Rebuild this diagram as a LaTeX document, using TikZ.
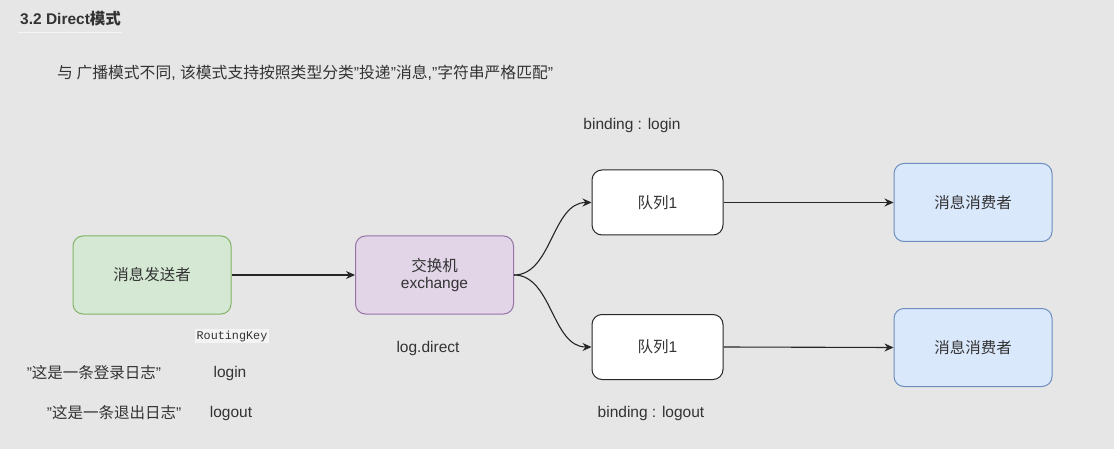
\documentclass[tikz,border=0pt]{standalone}
\usepackage{fontspec}
\setmainfont{Liberation Sans}
\setmonofont{Liberation Mono}
\newfontfamily\cjk{Noto Sans CJK SC}
\usetikzlibrary{arrows.meta}
\definecolor{bg}{HTML}{E6E6E6}
\definecolor{txt}{HTML}{333333}
\definecolor{greenfill}{HTML}{D5E8D4}
\definecolor{greenline}{HTML}{82B366}
\definecolor{purplefill}{HTML}{E1D5E7}
\definecolor{purpleline}{HTML}{9673A6}
\definecolor{bluefill}{HTML}{DAE8FC}
\definecolor{blueline}{HTML}{6C8EBF}
\tikzset{
  x=1pt, y=-1pt,
  box/.style={draw, rounded corners=10pt, line width=1pt, text=txt,
    font=\fontsize{15.5}{18}\selectfont, align=center, inner sep=0pt},
  label/.style={text=txt, font=\fontsize{15.5}{18}\selectfont, inner sep=0pt},
  conn/.style={draw=black!85, line width=1.1pt, -{Stealth[length=9pt,width=8pt]}},
}
\begin{document}
\begin{tikzpicture}
\fill[bg] (0,0) rectangle (1114,449);
\useasboundingbox (0,0) rectangle (1114,449);
% header
\node[label, anchor=west, font=\fontsize{15.5}{18}\selectfont\bfseries] (title) at (20,19) {3.2 Direct{\cjk\bfseries 模式}};
\draw[white!60!bg, line width=1pt] (18,33) -- (122,33);
\node[label, anchor=west, font=\fontsize{15.8}{18}\selectfont] (sub) at (57,73) {{\cjk 与 广播模式不同}, {\cjk 该模式支持按照类型分类}"{\cjk 投递}"{\cjk 消息},"{\cjk 字符串严格匹配}"};
% nodes
\node[box, fill=greenfill, draw=greenline, minimum width=158pt, minimum height=78pt] (sender) at (152,275) {\cjk 消息发送者};
\node[box, fill=purplefill, draw=purpleline, minimum width=158pt, minimum height=78pt] (ex) at (434.5,275) {{\cjk 交换机}\\[-1pt]exchange};
\node[box, fill=white, draw=black!85, minimum width=131pt, minimum height=65pt] (q1) at (657.5,202.5) {{\cjk 队列}1};
\node[box, fill=white, draw=black!85, minimum width=131pt, minimum height=65pt] (q2) at (657.5,347) {{\cjk 队列}1};
\node[box, fill=bluefill, draw=blueline, minimum width=158pt, minimum height=78pt] (c1) at (973,202.5) {\cjk 消息消费者};
\node[box, fill=bluefill, draw=blueline, minimum width=158pt, minimum height=78pt] (c2) at (973,347.5) {\cjk 消息消费者};
% labels
\node[label] (b1) at (632,125) {binding : login};
\node[label] (b2) at (651,413) {binding : logout};
\node[label] (ld) at (428,348) {log.direct};
\node[fill=white!55!bg, text=txt, font=\ttfamily\fontsize{11.8}{13}\selectfont, inner sep=1.5pt] (rk) at (232,336) {RoutingKey};
\node[label] (m1) at (94,373) {"{\cjk 这是一条登录日志}"};
\node[label] (k1) at (230,373) {login};
\node[label] (m2) at (114,413) {"{\cjk 这是一条退出日志}"};
\node[label] (k2) at (231,413) {logout};
% connectors
\draw[conn] (sender.east) -- (ex.west);
\draw[conn] (ex.east) .. controls (552,275) and (552,202.5) .. (q1.west);
\draw[conn] (ex.east) .. controls (552,275) and (552,347) .. (q2.west);
\draw[conn] (q1.east) -- (c1.west);
\draw[conn] (q2.east) -- (c2.west);
\end{tikzpicture}
\end{document}
